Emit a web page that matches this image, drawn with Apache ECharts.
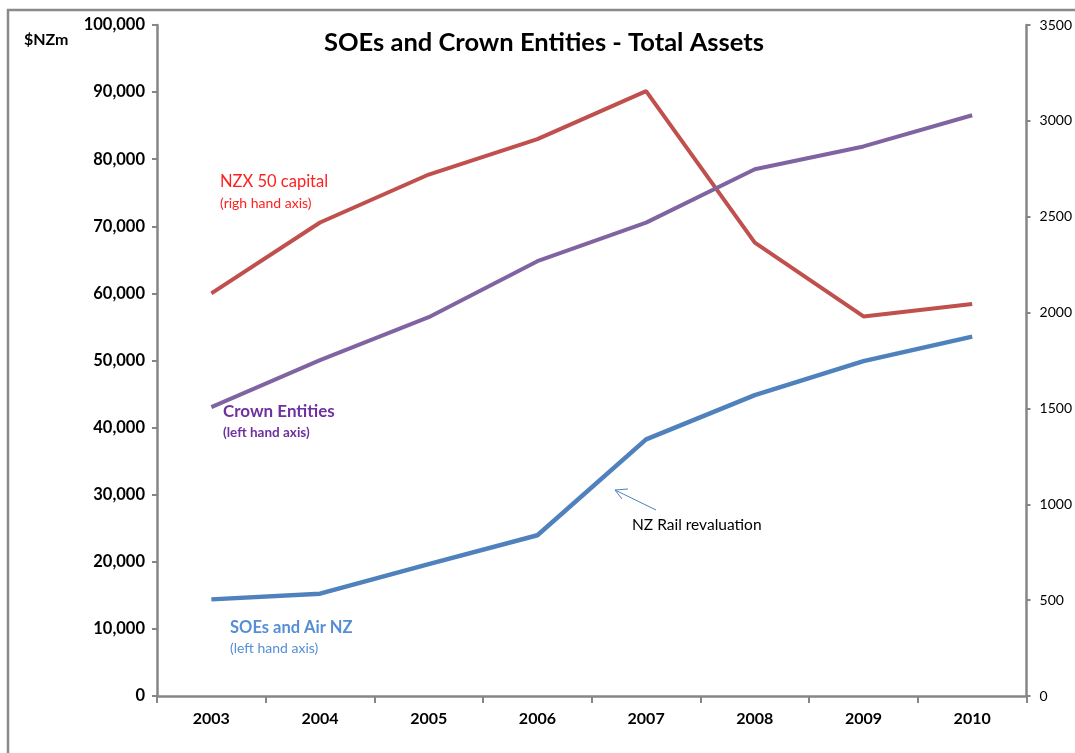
<!DOCTYPE html>
<html>
<head>
<meta charset="utf-8">
<script src="https://cdn.jsdelivr.net/npm/echarts@6/dist/echarts.min.js"></script>
<style>
  html, body { margin: 0; padding: 0; background: #fff; }
  #chart { width: 1075px; height: 753px; }
</style>
</head>
<body>
<div id="chart"></div>
<script>
// Fiscal years on the category axis
const years = ['2003', '2004', '2005', '2006', '2007', '2008', '2009', '2010'];

// Total assets, $NZ millions (left axis)
const soesAirNz = [14400, 15250, 19650, 23950, 38250, 44850, 49900, 53550];
const crownEntities = [43050, 50050, 56450, 64800, 70550, 78500, 81900, 86550];

// NZX 50 capital index (right axis)
const nzx50 = [2100, 2470, 2720, 2905, 3155, 2365, 1980, 2045];

// Axis ranges
const leftMax = 100000, leftStep = 10000;
const rightMax = 3500, rightStep = 500;

const FONT = 'Lato, "Open Sans", sans-serif';
const AXIS_GREY = '#868686';

const chart = echarts.init(document.getElementById('chart'));

chart.setOption({
  backgroundColor: '#ffffff',
  animation: false,
  title: {
    text: 'SOEs and Crown Entities - Total Assets',
    left: 319,
    top: 25,
    textStyle: { fontFamily: FONT, fontSize: 25.5, fontWeight: 'bold', color: '#000' }
  },
  grid: { left: 157, right: 46, top: 25, bottom: 57 },
  xAxis: {
    type: 'category',
    data: years,
    boundaryGap: true,
    axisLine: { lineStyle: { color: AXIS_GREY, width: 2.5 } },
    axisTick: { show: true, length: 7, inside: false, lineStyle: { color: AXIS_GREY, width: 2 } },
    axisLabel: { margin: 15, fontFamily: FONT, fontSize: 16, fontWeight: 'bold', color: '#000' },
    splitLine: { show: false }
  },
  yAxis: [
    {
      type: 'value',
      min: 0, max: leftMax, interval: leftStep,
      position: 'left',
      axisLine: { show: true, lineStyle: { color: AXIS_GREY, width: 2.5 } },
      axisTick: { show: true, length: 5, lineStyle: { color: AXIS_GREY, width: 2 } },
      axisLabel: {
        margin: 12,
        fontFamily: FONT, fontSize: 16.5, fontWeight: 'bold', color: '#000',
        formatter: v => v.toLocaleString('en-US')
      },
      splitLine: { show: false }
    },
    {
      type: 'value',
      min: 0, max: rightMax, interval: rightStep,
      position: 'right',
      axisLine: { show: true, lineStyle: { color: AXIS_GREY, width: 2.5 } },
      axisTick: { show: true, length: 4, lineStyle: { color: AXIS_GREY, width: 2 } },
      axisLabel: {
        margin: 13, fontFamily: FONT, fontSize: 14, color: '#000',
        formatter: v => String(v)
      },
      splitLine: { show: false }
    }
  ],
  series: [
    {
      name: 'NZX 50 capital',
      type: 'line',
      yAxisIndex: 1,
      data: nzx50,
      symbol: 'none',
      lineStyle: { color: '#C0504D', width: 4 }
    },
    {
      name: 'Crown Entities',
      type: 'line',
      yAxisIndex: 0,
      data: crownEntities,
      symbol: 'none',
      lineStyle: { color: '#8064A2', width: 4 }
    },
    {
      name: 'SOEs and Air NZ',
      type: 'line',
      yAxisIndex: 0,
      data: soesAirNz,
      symbol: 'none',
      lineStyle: { color: '#4F81BD', width: 4.5 }
    }
  ],
  graphic: [
    // chart frame
    {
      type: 'rect',
      shape: { x: 8, y: 10, width: 1200, height: 900 },
      style: { fill: 'none', stroke: '#8a8a8a', lineWidth: 2.5 },
      silent: true
    },
    {
      type: 'text', left: 24, top: 32,
      style: { text: '$NZm', font: 'bold 16px ' + FONT, fill: '#000' }
    },
    // series annotations
    {
      type: 'text', left: 220, top: 173,
      style: { text: 'NZX 50 capital', font: '16.5px ' + FONT, fill: '#FF2020' }
    },
    {
      type: 'text', left: 220, top: 196,
      style: { text: '(righ hand axis)', font: '14px ' + FONT, fill: '#FF2020' }
    },
    {
      type: 'text', left: 223, top: 403,
      style: { text: 'Crown Entities', font: 'bold 17px ' + FONT, fill: '#7030A0' }
    },
    {
      type: 'text', left: 223, top: 426,
      style: { text: '(left hand axis)', font: 'bold 13.5px ' + FONT, fill: '#7030A0' }
    },
    {
      type: 'text', left: 230, top: 619,
      style: { text: 'SOEs and Air NZ', font: 'bold 16.5px ' + FONT, fill: '#558ED5' }
    },
    {
      type: 'text', left: 230, top: 641,
      style: { text: '(left hand axis)', font: '14px ' + FONT, fill: '#558ED5' }
    },
    {
      type: 'text', left: 632, top: 517,
      style: { text: 'NZ Rail revaluation', font: '15.5px ' + FONT, fill: '#000' }
    },
    // arrow pointing at the 2007 jump
    {
      type: 'line',
      shape: { x1: 656, y1: 510, x2: 615, y2: 490 },
      style: { stroke: '#4F81BD', lineWidth: 1 }
    },
    {
      type: 'polyline',
      shape: { points: [[628, 489], [615, 490], [622, 499]] },
      style: { stroke: '#4F81BD', lineWidth: 1, fill: 'none' }
    }
  ]
});
</script>
</body>
</html>
